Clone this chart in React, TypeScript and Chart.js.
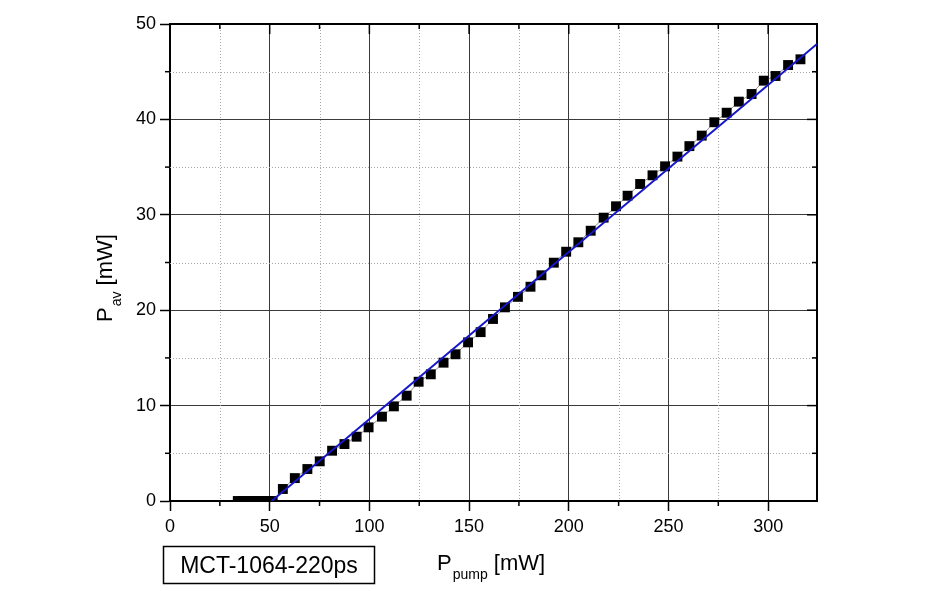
import { useEffect, useRef } from 'react';
import { Chart, registerables } from 'chart.js';

Chart.register(...registerables);

// measured points (pump power in mW, average output power in mW)
const pumpPower = [
  34, 36.5, 39, 41.5, 44, 46.5, 49, 51.5,
  56.6, 62.6, 68.9, 75.1, 81.3, 87.5, 93.6, 99.6, 106.3, 112.3,
  118.7, 124.7, 130.8, 137.2, 143.2, 149.5, 155.8, 162, 168, 174.5,
  180.8, 186.3, 192.5, 198.7, 204.8, 211, 217.5, 223.7, 229.5, 235.8,
  242, 248.3, 254.5, 260.5, 266.7, 273, 279.2, 285.3, 291.7, 297.8,
  303.7, 310, 316.2,
];
const avgPower = [
  0, 0, 0, 0, 0, 0, 0, 0,
  1.26, 2.4, 3.35, 4.16, 5.27, 5.97, 6.74, 7.72, 8.84, 9.92,
  11.04, 12.5, 13.28, 14.5, 15.38, 16.63, 17.7, 19.08, 20.3, 21.4,
  22.46, 23.66, 24.98, 26.13, 27.12, 28.33, 29.7, 30.89, 32.0, 33.23,
  34.14, 35.08, 36.1, 37.2, 38.3, 39.7, 40.7, 41.86, 42.66, 44.06,
  44.55, 45.7, 46.3,
];

// linear fit end points
const fitPump = [51, 324.5];
const fitAvg = [0, 47.9];

const xMajor = [0, 50, 100, 150, 200, 250, 300];
const xMinor = [25, 75, 125, 175, 225, 275];
const yMajor = [0, 10, 20, 30, 40, 50];
const yMinor = [5, 15, 25, 35, 45];

const FONT = '"Liberation Sans", Arial, Helvetica, sans-serif';
const font = (size: number) => `${size}px ${FONT}`;

const framePlugin = {
  id: 'frame',
  beforeDatasetsDraw(chart: any) {
    const { ctx, chartArea: a, scales } = chart;
    const xs = scales.x;
    const ys = scales.y;
    const seg = (x1: number, y1: number, x2: number, y2: number) => {
      ctx.beginPath();
      ctx.moveTo(x1, y1);
      ctx.lineTo(x2, y2);
      ctx.stroke();
    };
    ctx.save();

    // dotted minor grid
    ctx.strokeStyle = '#a8a8a8';
    ctx.lineWidth = 1;
    ctx.setLineDash([1, 2]);
    xMinor.forEach(v => {
      const px = Math.round(xs.getPixelForValue(v)) + 0.5;
      seg(px, a.top, px, a.bottom);
    });
    yMinor.forEach(v => {
      const py = Math.round(ys.getPixelForValue(v)) + 0.5;
      seg(a.left, py, a.right, py);
    });
    ctx.setLineDash([]);

    // minor ticks and the mirrored ticks on top / right
    ctx.strokeStyle = '#000';
    ctx.lineWidth = 1.5;
    xMinor.forEach(v => {
      const px = xs.getPixelForValue(v);
      seg(px, a.bottom, px, a.bottom + 5);
      seg(px, a.top, px, a.top + 5);
    });
    xMajor.forEach(v => {
      const px = xs.getPixelForValue(v);
      seg(px, a.top, px, a.top + 10);
    });
    yMinor.forEach(v => {
      const py = ys.getPixelForValue(v);
      seg(a.left - 5, py, a.left, py);
      seg(a.right - 5, py, a.right, py);
    });
    yMajor.forEach(v => {
      const py = ys.getPixelForValue(v);
      seg(a.right - 10, py, a.right, py);
    });

    ctx.lineWidth = 2;
    seg(a.left - 1, a.top, a.right + 1, a.top);
    seg(a.right, a.top, a.right, a.bottom);
    ctx.restore();
  },
  afterDraw(chart: any) {
    const { ctx } = chart;
    ctx.save();
    ctx.fillStyle = '#000';
    ctx.textBaseline = 'alphabetic';
    ctx.textAlign = 'left';

    // x axis title: P_pump [mW]
    let x = 437;
    ctx.font = font(22);
    ctx.fillText('P', x, 570);
    x += ctx.measureText('P').width + 1;
    ctx.font = font(14);
    ctx.fillText('pump', x, 579);
    x += ctx.measureText('pump').width;
    ctx.font = font(22);
    ctx.fillText(' [mW]', x, 570);

    // y axis title: P_av [mW]
    ctx.save();
    ctx.translate(112, 322);
    ctx.rotate(-Math.PI / 2);
    let t = 0;
    ctx.font = font(22);
    ctx.fillText('P', t, 0);
    t += ctx.measureText('P').width + 1;
    ctx.font = font(14);
    ctx.fillText('av', t, 9);
    t += ctx.measureText('av').width;
    ctx.font = font(22);
    ctx.fillText(' [mW]', t, 0);
    ctx.restore();

    // sample label box
    ctx.strokeStyle = '#000';
    ctx.lineWidth = 1.5;
    ctx.strokeRect(163.5, 546.5, 211, 37);
    ctx.font = font(23);
    ctx.textAlign = 'center';
    ctx.fillText('MCT-1064-220ps', 269, 573);
    ctx.restore();
  },
};

const App = () => {
  const canvasRef = useRef<HTMLCanvasElement>(null);
  const chartRef = useRef<Chart | null>(null);

  useEffect(() => {
    if (!canvasRef.current) return;
    if (chartRef.current) chartRef.current.destroy();

    chartRef.current = new Chart(canvasRef.current, {
      type: 'scatter',
      data: {
        datasets: [
          {
            label: 'fit',
            data: fitPump.map((v, i) => ({ x: v, y: fitAvg[i] })),
            showLine: true,
            borderColor: '#1616c8',
            borderWidth: 2,
            pointRadius: 0,
            clip: 0,
            order: 0,
          },
          {
            label: 'measured',
            data: pumpPower.map((v, i) => ({ x: v, y: avgPower[i] })),
            showLine: true,
            borderColor: '#777',
            borderWidth: 0.8,
            pointStyle: 'rect',
            pointRadius: 7,
            pointBorderWidth: 0,
            pointBackgroundColor: '#000',
            clip: { left: 10, right: 10, top: 10, bottom: 0 },
            order: 1,
          },
        ],
      },
      options: {
        responsive: true,
        maintainAspectRatio: false,
        animation: false,
        events: [],
        layout: { padding: { left: 0, right: 133, top: 24, bottom: 0 } },
        plugins: {
          legend: { display: false },
          tooltip: { enabled: false },
        },
        scales: {
          x: {
            type: 'linear',
            min: 0,
            max: 324.5,
            afterBuildTicks: (scale: any) => {
              scale.ticks = xMajor.map(v => ({ value: v }));
            },
            afterFit: (scale: any) => {
              scale.height = 90;
            },
            ticks: {
              color: '#000',
              font: { family: FONT, size: 18 },
              padding: 5,
              maxRotation: 0,
            },
            grid: {
              color: '#3a3a3a',
              lineWidth: 1,
              tickColor: '#000',
              tickLength: 10,
              tickWidth: 1.5,
            },
            border: { color: '#000', width: 2 },
          },
          y: {
            type: 'linear',
            min: 0,
            max: 50,
            afterBuildTicks: (scale: any) => {
              scale.ticks = yMajor.map(v => ({ value: v }));
            },
            afterFit: (scale: any) => {
              scale.width = 170;
            },
            ticks: {
              color: '#000',
              font: { family: FONT, size: 18 },
              padding: 4,
            },
            grid: {
              color: '#3a3a3a',
              lineWidth: 1,
              tickColor: '#000',
              tickLength: 10,
              tickWidth: 1.5,
            },
            border: { color: '#000', width: 2 },
          },
        },
      },
      plugins: [framePlugin],
    });

    return () => {
      if (chartRef.current) {
        chartRef.current.destroy();
        chartRef.current = null;
      }
    };
  }, []);

  return (
    <div style={{ position: 'absolute', left: 0, top: 0, width: 950, height: 591, background: '#fff' }}>
      <canvas ref={canvasRef} />
    </div>
  );
};

export default App;
